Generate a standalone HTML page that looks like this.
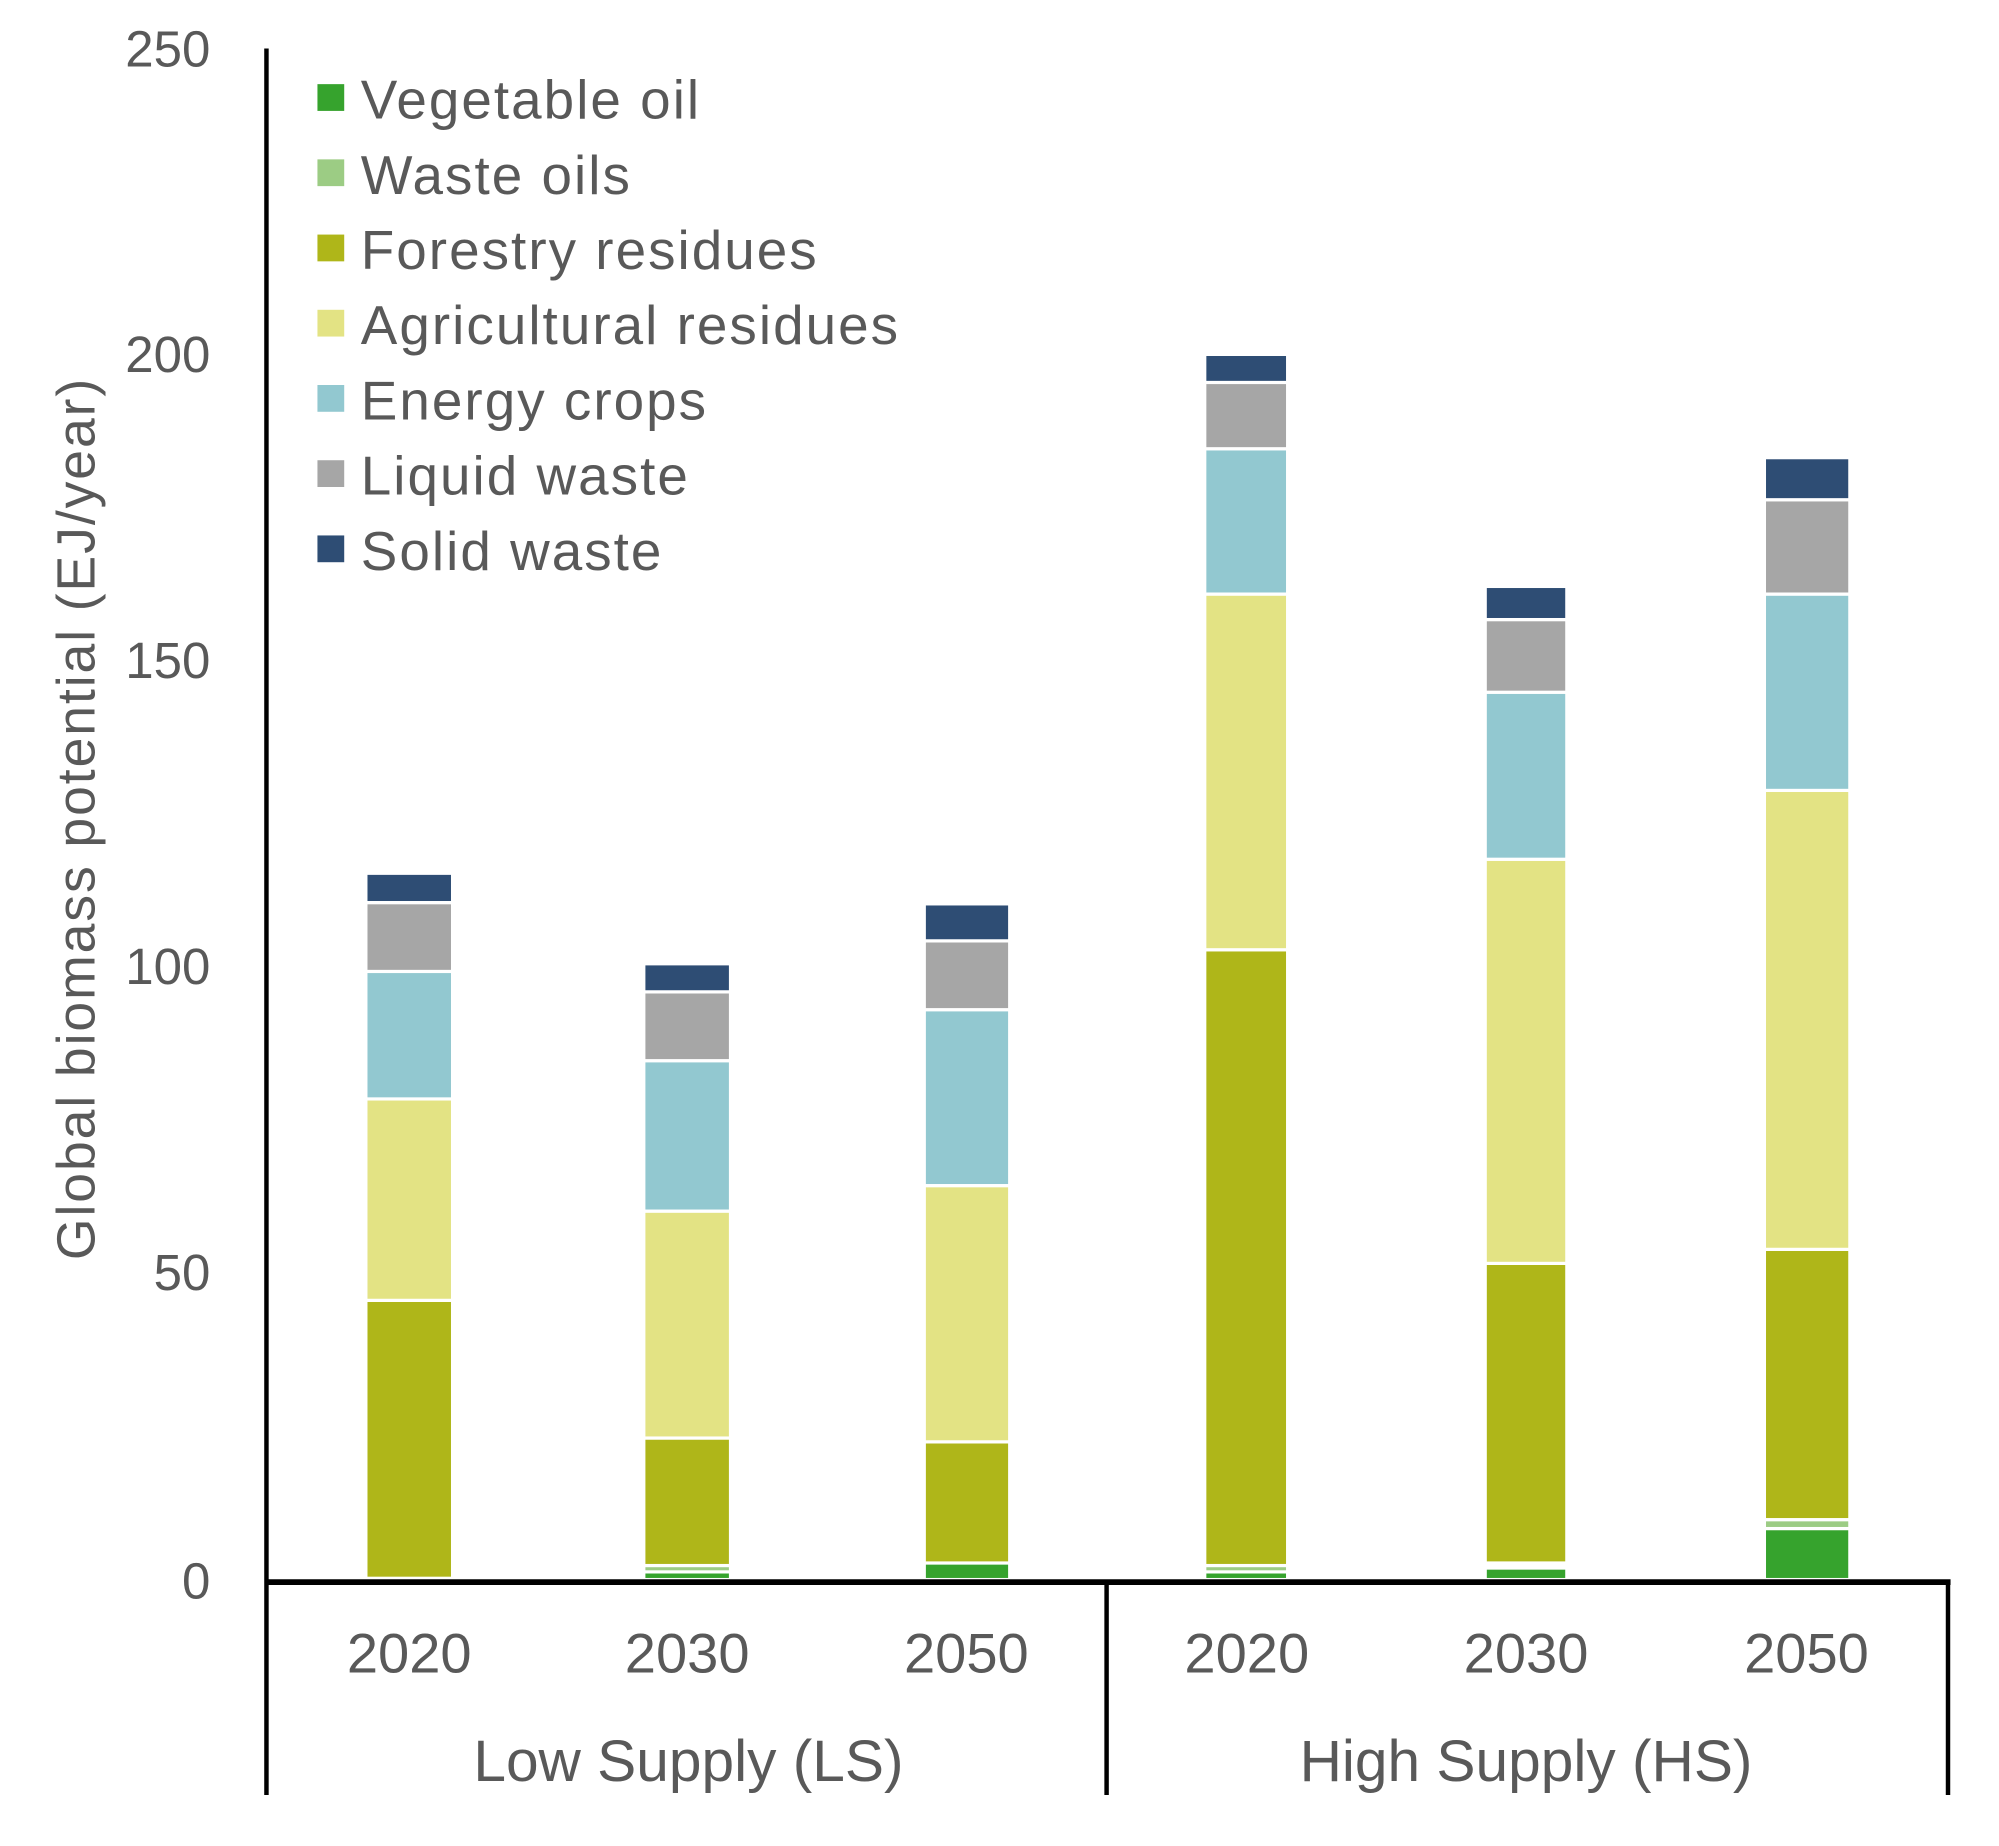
<!DOCTYPE html>
<html><head><meta charset="utf-8"><style>html,body{margin:0;padding:0;background:#fff}svg{display:block}</style></head>
<body>
<svg width="1999" height="1846" viewBox="0 0 1568 1448" preserveAspectRatio="none" xmlns="http://www.w3.org/2000/svg" font-family="Liberation Sans, sans-serif">
<rect width="1568" height="1448" fill="#fff"/>
<g stroke="#fff" stroke-width="2.5">
<rect x="287" y="1020" width="68" height="218" fill="#afb619"/>
<rect x="287" y="862" width="68" height="158" fill="#e3e384"/>
<rect x="287" y="762" width="68" height="100" fill="#92c8d0"/>
<rect x="287" y="708" width="68" height="54" fill="#a6a6a6"/>
<rect x="287" y="685" width="68" height="23" fill="#2e4d74"/>
<rect x="505" y="1233" width="68" height="6" fill="#36a32d"/>
<rect x="505" y="1228" width="68" height="5" fill="#9ccc84"/>
<rect x="505" y="1128" width="68" height="100" fill="#afb619"/>
<rect x="505" y="950" width="68" height="178" fill="#e3e384"/>
<rect x="505" y="832" width="68" height="118" fill="#92c8d0"/>
<rect x="505" y="778" width="68" height="54" fill="#a6a6a6"/>
<rect x="505" y="756" width="68" height="22" fill="#2e4d74"/>
<rect x="725" y="1226" width="67" height="13" fill="#36a32d"/>
<rect x="725" y="1131" width="67" height="95" fill="#afb619"/>
<rect x="725" y="930" width="67" height="201" fill="#e3e384"/>
<rect x="725" y="792" width="67" height="138" fill="#92c8d0"/>
<rect x="725" y="738" width="67" height="54" fill="#a6a6a6"/>
<rect x="725" y="709" width="67" height="29" fill="#2e4d74"/>
<rect x="945" y="1233" width="65" height="6" fill="#36a32d"/>
<rect x="945" y="1228" width="65" height="5" fill="#9ccc84"/>
<rect x="945" y="745" width="65" height="483" fill="#afb619"/>
<rect x="945" y="466" width="65" height="279" fill="#e3e384"/>
<rect x="945" y="352" width="65" height="114" fill="#92c8d0"/>
<rect x="945" y="300" width="65" height="52" fill="#a6a6a6"/>
<rect x="945" y="278" width="65" height="22" fill="#2e4d74"/>
<rect x="1165" y="1230" width="64" height="9" fill="#36a32d"/>
<rect x="1165" y="991" width="64" height="235" fill="#afb619"/>
<rect x="1165" y="674" width="64" height="317" fill="#e3e384"/>
<rect x="1165" y="543" width="64" height="131" fill="#92c8d0"/>
<rect x="1165" y="486" width="64" height="57" fill="#a6a6a6"/>
<rect x="1165" y="460" width="64" height="26" fill="#2e4d74"/>
<rect x="1384" y="1199" width="67" height="40" fill="#36a32d"/>
<rect x="1384" y="1192" width="67" height="7" fill="#9ccc84"/>
<rect x="1384" y="980" width="67" height="212" fill="#afb619"/>
<rect x="1384" y="620" width="67" height="360" fill="#e3e384"/>
<rect x="1384" y="466" width="67" height="154" fill="#92c8d0"/>
<rect x="1384" y="392" width="67" height="74" fill="#a6a6a6"/>
<rect x="1384" y="359" width="67" height="33" fill="#2e4d74"/>
</g>
<line x1="209" y1="38" x2="209" y2="1408" stroke="#000" stroke-width="3.5"/>
<line x1="208" y1="1241" x2="1530" y2="1241" stroke="#000" stroke-width="4.5"/>
<line x1="868" y1="1241" x2="868" y2="1408" stroke="#000" stroke-width="3.5"/>
<line x1="1528" y1="1241" x2="1528" y2="1408" stroke="#000" stroke-width="3.5"/>
<g fill="#595959" font-size="40" text-anchor="end">
<text x="165" y="52">250</text>
<text x="165" y="292">200</text>
<text x="165" y="532">150</text>
<text x="165" y="772">100</text>
<text x="165" y="1012">50</text>
<text x="165" y="1254">0</text>
</g>
<text transform="translate(74,642) rotate(-90)" text-anchor="middle" fill="#595959" font-size="42" letter-spacing="1.5">Global biomass potential (EJ/year)</text>
<g fill="#595959" font-size="44" text-anchor="middle">
<text x="321" y="1312">2020</text>
<text x="539" y="1312">2030</text>
<text x="758" y="1312">2050</text>
<text x="978" y="1312">2020</text>
<text x="1197" y="1312">2030</text>
<text x="1417" y="1312">2050</text>
<text x="540" y="1397" font-size="46">Low Supply (LS)</text>
<text x="1197" y="1397" font-size="46">High Supply (HS)</text>
</g>
<g font-size="43" fill="#595959" letter-spacing="1.6">
<rect x="249" y="66" width="21" height="21" fill="#36a32d"/><text x="283" y="93">Vegetable oil</text>
<rect x="249" y="125" width="21" height="21" fill="#9ccc84"/><text x="283" y="152">Waste oils</text>
<rect x="249" y="184" width="21" height="21" fill="#afb619"/><text x="283" y="211">Forestry residues</text>
<rect x="249" y="243" width="21" height="21" fill="#e3e384"/><text x="283" y="270">Agricultural residues</text>
<rect x="249" y="302" width="21" height="21" fill="#92c8d0"/><text x="283" y="329">Energy crops</text>
<rect x="249" y="361" width="21" height="21" fill="#a6a6a6"/><text x="283" y="388">Liquid waste</text>
<rect x="249" y="420" width="21" height="21" fill="#2e4d74"/><text x="283" y="447">Solid waste</text>
</g>
</svg>
</body></html>
